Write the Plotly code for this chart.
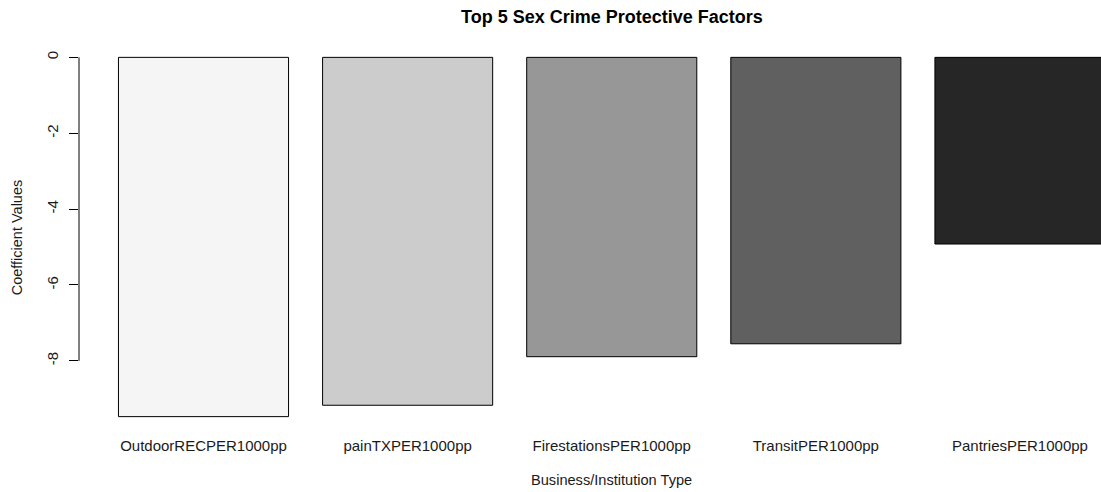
import plotly.graph_objects as go

categories = ["OutdoorRECPER1000pp", "painTXPER1000pp", "FirestationsPER1000pp",
              "TransitPER1000pp", "PantriesPER1000pp"]
values = [-9.47, -9.17, -7.89, -7.55, -4.92]
bar_colors = ["#F5F5F5", "#CCCCCC", "#979797", "#606060", "#262626"]
y_ticks = [0, -2, -4, -6, -8]

FONT = "Liberation Sans, Arial, sans-serif"

fig = go.Figure()
fig.add_trace(go.Bar(
    x=categories, y=values,
    marker=dict(color=bar_colors, line=dict(color="#000000", width=1)),
    width=1 / 1.2,
))

ymin = min(values)
pad = -ymin * 0.04

fig.update_layout(
    width=1101, height=492,
    margin=dict(l=78.5, r=0, t=43, b=60.5),
    plot_bgcolor="white", paper_bgcolor="white",
    showlegend=False,
    font=dict(family=FONT, size=14, color="#000000"),
    xaxis=dict(
        type="category",
        range=[-0.61, 4.397],
        showgrid=False, zeroline=False, showline=False,
        ticks="", tickfont=dict(size=15, color="#1a1a1a"),
        ticklabelstandoff=4,
    ),
    yaxis=dict(
        range=[ymin - pad, pad],
        tickvals=y_ticks, ticktext=[str(v) for v in y_ticks],
        showgrid=False, zeroline=False, showline=False,
        ticks="outside", ticklen=9, tickwidth=1, tickcolor="#000000",
        tickangle=-90, tickfont=dict(size=15, color="#1a1a1a"),
        ticklabelstandoff=5,
    ),
    shapes=[
        dict(type="line", xref="paper", yref="y", x0=0, x1=0,
             y0=y_ticks[0], y1=y_ticks[-1], line=dict(color="#000000", width=1)),
    ],
)

plot_h = 492 - 43 - 60.5
plot_w = 1101 - 78.5

fig.add_annotation(text="<b>Top 5 Sex Crime Protective Factors</b>", x=2, xref="x",
                   y=(492 - 60.5 - 17) / plot_h, yref="paper", yanchor="middle",
                   xanchor="center", showarrow=False,
                   font=dict(size=18, family=FONT, color="#000000"))
fig.add_annotation(text="Business/Institution Type", x=2, xref="x",
                   y=(492 - 60.5 - 481) / plot_h, yref="paper", yanchor="middle",
                   xanchor="center", showarrow=False,
                   font=dict(size=14.6, family=FONT, color="#1a1a1a"))
fig.add_annotation(text="Coefficient Values", x=(16 - 78.5) / plot_w, xref="paper",
                   y=(492 - 60.5 - 238) / plot_h, yref="paper", textangle=-90,
                   xanchor="center", yanchor="middle", showarrow=False,
                   font=dict(size=14.5, family=FONT, color="#1a1a1a"))

fig.write_html("out.html", config={"displayModeBar": False},
               post_script="document.body.style.margin='0';document.body.style.overflow='hidden';")
